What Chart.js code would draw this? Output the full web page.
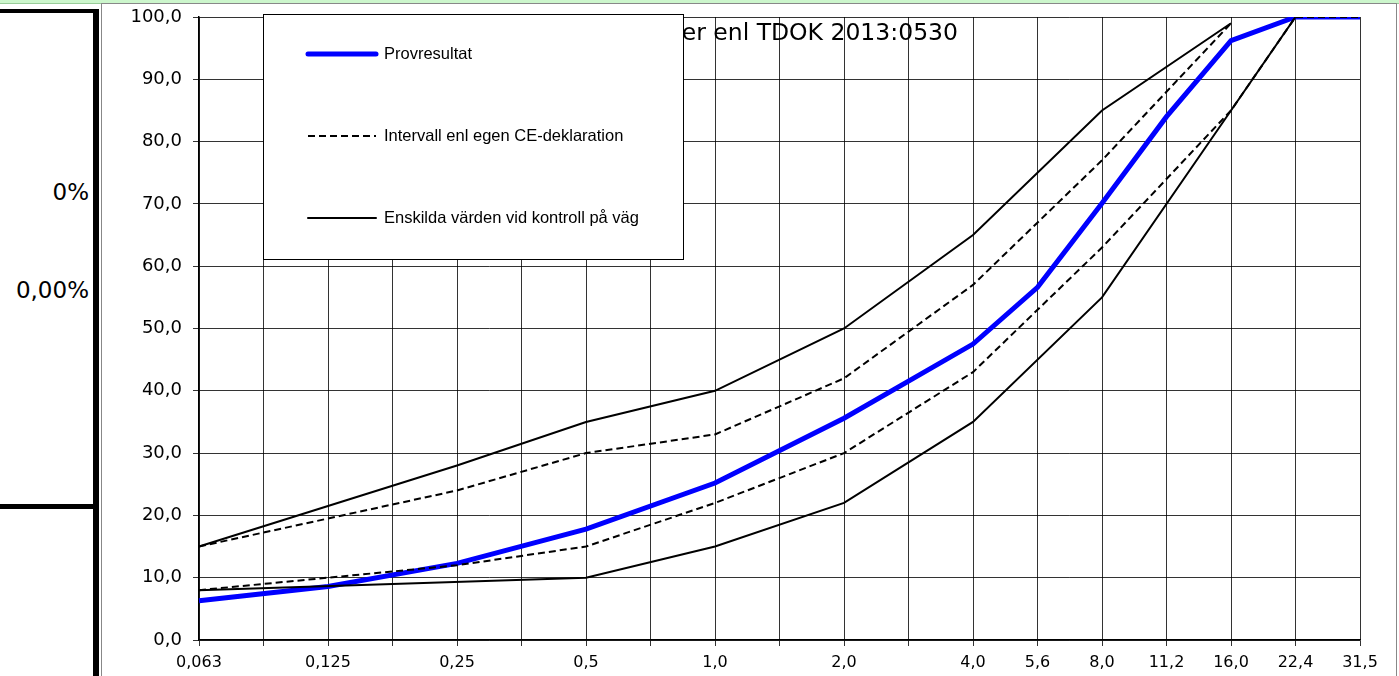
<!DOCTYPE html>
<html>
<head>
<meta charset="utf-8">
<script src="https://cdn.jsdelivr.net/npm/chart.js@4.4.0/dist/chart.umd.min.js"></script>
<style>
  html, body { margin: 0; padding: 0; background: #fff; overflow: hidden; }
  body { width: 1399px; height: 676px; position: relative; font-family: "DejaVu Sans", sans-serif; }
  #strip { position: absolute; left: 0; top: 0; width: 1399px; height: 3px; background: #ccf6cc; border-bottom: 1px solid #9c9; }
  #hline1 { position: absolute; left: 0; top: 9px; width: 99px; height: 4px; background: #000; }
  #vline { position: absolute; left: 93px; top: 9px; width: 6px; height: 667px; background: #000; }
  #hline2 { position: absolute; left: 0; top: 504px; width: 95px; height: 5px; background: #000; }
  .pct { position: absolute; right: 1310px; font-size: 23px; line-height: 23px; color: #000; white-space: nowrap; }
  #frame { position: absolute; left: 101px; top: 3px; width: 1294px; height: 673px; border: 1px solid #888; border-bottom: none; background: #fff; }
  #chart { position: absolute; left: 102px; top: 4px; }
</style>
</head>
<body>
<div id="strip"></div>
<div id="hline1"></div>
<div id="vline"></div>
<div id="hline2"></div>
<div class="pct" style="top:181px">0%</div>
<div class="pct" style="top:279px">0,00%</div>
<div id="frame"></div>
<canvas id="chart" width="1294" height="672"></canvas>

<script>
// siktar (mm), alla kategorier på x-axeln
const sieveSizes = ['0,063','0,09','0,125','0,18','0,25','0,355','0,5','0,71','1,0','1,4','2,0','2,8','4,0','5,6','8,0','11,2','16,0','22,4','31,5'];
// bara huvudsiktarna får etikett
const tickLabels = ['0,063','','0,125','','0,25','','0,5','','1,0','','2,0','','4,0','5,6','8,0','11,2','16,0','22,4','31,5'];

// passerande mängd (%)
const provresultat = [6.3, null, 8.6, null, 12.3, null, 17.8, null, 25.2, null, 35.6, null, 47.5, 56.6, 70.1, 84, 96.2, 100, 100];
const ceMax = [15, null, null, null, 24, null, 30, null, 33, null, 42, null, 57, null, 77, null, 99, null, null];
const ceMin = [8, null, null, null, 12, null, 15, null, 22, null, 30, null, 43, null, 63, null, 85, 100, 100];
const kontrollMax = [15, null, null, null, 28, null, 35, null, 40, null, 50, null, 65, null, 85, null, 99, null, null];
const kontrollMin = [8, null, null, null, null, null, 10, null, 15, null, 22, null, 35, null, 55, null, 85, 100, null];

const titleText = 'Kornkurva med toleranser enl TDOK 2013:0530';
const labelProv = 'Provresultat';
const labelCE = 'Intervall enl egen CE-deklaration';
const labelKontroll = 'Enskilda värden vid kontroll på väg';

Chart.defaults.font.family = '"DejaVu Sans", sans-serif';
Chart.defaults.color = '#000';

function lineSet(label, data, color, width, dash, order) {
  return {
    label: label, data: data, borderColor: color, backgroundColor: color,
    borderWidth: width, borderDash: dash, pointRadius: 0, pointHoverRadius: 0,
    tension: 0, spanGaps: true, fill: false, order: order
  };
}

/* vit bakgrund */
const bgPlugin = {
  id: 'bg',
  beforeDraw(chart) {
    const c = chart.ctx;
    c.save();
    c.fillStyle = '#fff';
    c.fillRect(0, 0, chart.width, chart.height);
    c.restore();
  }
};

/* rubrik + legendruta ovanpå diagramytan */
const boxPlugin = {
  id: 'box',
  afterDraw(chart) {
    const c = chart.ctx;
    const a = chart.chartArea;
    c.save();
    // rubrik (delvis dold bakom legenden)
    c.font = '23.5px "DejaVu Sans"';
    c.fillStyle = '#000';
    c.textAlign = 'right';
    c.textBaseline = 'alphabetic';
    c.fillText(titleText, a.left + 759, a.top + 23);

    // legendruta
    const bx = a.left + 64, by = a.top - 3, bw = 420, bh = 245;
    c.fillStyle = '#fff';
    c.fillRect(bx, by, bw, bh);
    c.strokeStyle = '#000';
    c.lineWidth = 1;
    c.strokeRect(bx + 0.5, by + 0.5, bw, bh);

    const order = [labelProv, labelCE, labelKontroll];
    order.forEach((lab, i) => {
      const ds = chart.data.datasets.find(d => d.label === lab);
      const y = by + 40 + i * 82;
      c.beginPath();
      c.strokeStyle = ds.borderColor;
      c.lineWidth = ds.borderWidth;
      c.lineCap = ds.borderDash.length ? 'butt' : 'round';
      c.setLineDash(ds.borderDash);
      c.moveTo(bx + 45, y);
      c.lineTo(bx + 113, y);
      c.stroke();
      c.setLineDash([]);
      c.font = '16.5px "Liberation Sans"';
      c.fillStyle = '#000';
      c.textAlign = 'left';
      c.textBaseline = 'middle';
      c.fillText(lab, bx + 121, y);
    });
    c.restore();
  }
};

new Chart(document.getElementById('chart'), {
  type: 'line',
  data: {
    labels: sieveSizes,
    datasets: [
      lineSet(labelProv, provresultat, '#0000ff', 5, [], 5),
      lineSet(labelCE, ceMax, '#000', 2, [7, 4], 2),
      lineSet(labelCE, ceMin, '#000', 2, [7, 4], 1),
      lineSet(labelKontroll, kontrollMax, '#000', 2, [], 4),
      lineSet(labelKontroll, kontrollMin, '#000', 2, [], 3)
    ]
  },
  options: {
    responsive: false,
    devicePixelRatio: 1,
    animation: false,
    layout: { padding: { left: 0, right: 36, top: 13, bottom: 0 } },
    plugins: {
      legend: { display: false },
      title: { display: false },
      tooltip: { enabled: false }
    },
    scales: {
      x: {
        type: 'category',
        offset: false,
        grid: { color: 'rgba(0,0,0,0.8)', lineWidth: 1, tickLength: 6, drawTicks: true },
        border: { color: '#000', width: 1.5 },
        ticks: {
          autoSkip: false, maxRotation: 0, minRotation: 0, padding: 7,
          font: { size: 16 }, color: '#000',
          callback: (v, i) => tickLabels[i]
        },
        afterFit: s => { s.height = 36; s.paddingLeft = 0; s.paddingRight = 0; }
      },
      y: {
        min: 0, max: 100,
        grid: { color: 'rgba(0,0,0,0.8)', lineWidth: 1, tickLength: 6, drawTicks: true },
        border: { color: '#000', width: 1.5 },
        ticks: {
          stepSize: 10, padding: 11, font: { size: 18 }, color: '#000',
          callback: v => v.toFixed(1).replace('.', ',')
        },
        afterFit: s => { s.width = 97; s.paddingTop = 0; s.paddingBottom = 0; }
      }
    }
  },
  plugins: [bgPlugin, boxPlugin]
});
</script>
</body>
</html>
